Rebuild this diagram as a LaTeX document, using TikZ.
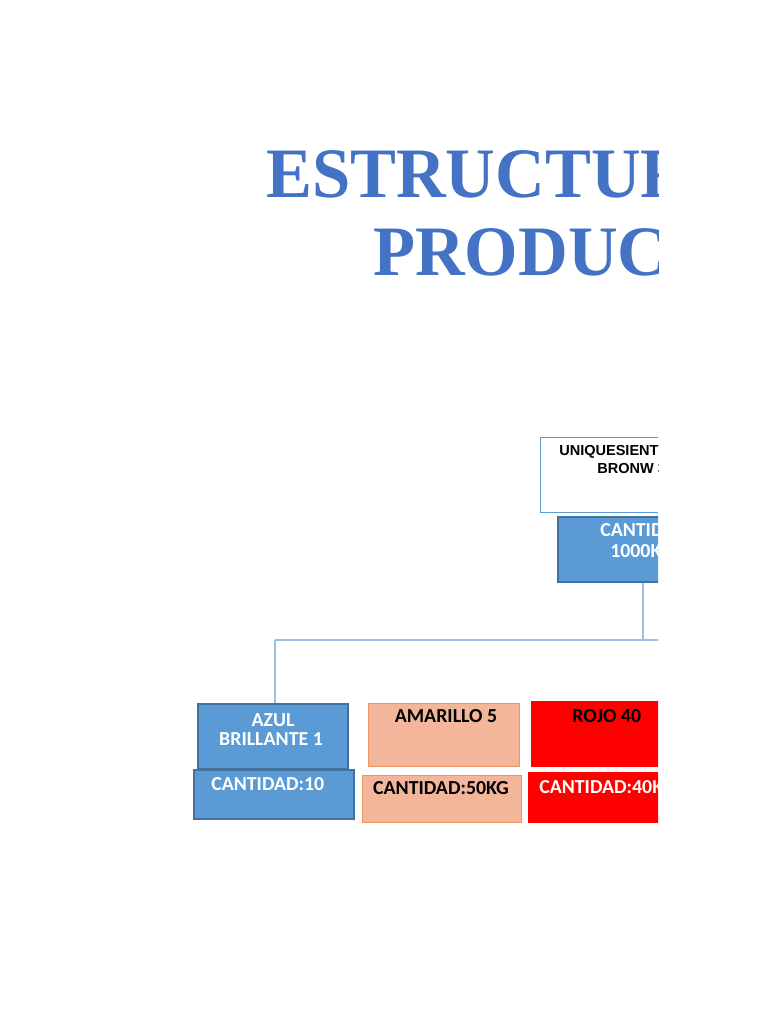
\documentclass[tikz,border=0pt]{standalone}
\usepackage{fontspec}
\setmainfont{Liberation Serif}
\newfontfamily\calfont{Carlito}
\newfontfamily\arialfont{Liberation Sans}
\usetikzlibrary{fit}
\definecolor{titleblue}{HTML}{4472C4}
\definecolor{boxblue}{HTML}{5B9BD5}
\definecolor{boxblueedge}{HTML}{41719C}
\definecolor{salmon}{HTML}{F4B69B}
\definecolor{salmonedge}{HTML}{E9955F}
\definecolor{connblue}{HTML}{9DBFE3}
\begin{document}
\begin{tikzpicture}[x=0.75pt,y=-0.75pt,
  bluebox/.style={draw=boxblueedge, fill=boxblue, line width=0.9pt, inner sep=0pt},
  whitebox/.style={draw=boxblue, fill=white, line width=0.75pt, inner sep=0pt},
  orangebox/.style={draw=salmonedge, fill=salmon, line width=0.75pt, inner sep=0pt},
  redbox/.style={draw=red, fill=red, line width=0.75pt, inner sep=0pt},
  conn/.style={draw=connblue, line width=0.9pt},
  lbl/.style={inner sep=0pt, font=\calfont\bfseries\fontsize{14.9}{17}\selectfont},
  arl/.style={inner sep=0pt, font=\arialfont\bfseries\fontsize{10.9}{12}\selectfont},
  ttl/.style={inner sep=0pt, anchor=base west, text=titleblue, font=\bfseries\fontsize{53.2}{60}\selectfont}]
\useasboundingbox (0,0) rectangle (768,1024);
\begin{scope}
\clip (0,0) rectangle (658,1024);
% title
\node[ttl] (title1) at (266,197) {\scalebox{0.97}[1]{ESTRUCTURA DEL}};
\node[ttl] (title2) at (373,275) {\scalebox{0.97}[1]{PRODUCTO}};
% boxes
\node[whitebox, fit={(540,437) (790,512)}] (top) {};
\node[bluebox, fit={(558,517) (730,582)}] (cant) {};
\node[bluebox, fit={(198,704) (348,769)}] (azul) {};
\node[bluebox, fit={(194,770) (354,819)}] (c10) {};
\node[orangebox, fit={(368,703) (519,766)}] (amar) {};
\node[orangebox, fit={(362,775) (521,822)}] (c50) {};
\node[redbox, fit={(531,701) (682,766)}] (rojo) {};
\node[redbox, fit={(528,772) (686,822)}] (c40) {};
% connectors
\coordinate (j) at (643,640);
\coordinate (jl) at (275,640);
\coordinate (jr) at (720,640);
\draw[conn] (j |- cant.south) -- (j);
\draw[conn] (jl) -- (jr);
\draw[conn] (jl) -- (jl |- azul.north);
% texts
\node[arl, anchor=base west] (t1) at (559,455) {UNIQUESIENTE};
\node[arl, anchor=base west] (t2) at (597,473) {BRONW 3};
\node[lbl, text=white, anchor=base west] (t3) at (600,536) {CANTIDAD:};
\node[lbl, text=white, anchor=base west] (t4) at (610,557) {1000KG};
\node[lbl, text=white, anchor=base] (t5) at (273,726) {AZUL};
\node[lbl, text=white, anchor=base] (t6) at (271,745) {BRILLANTE 1};
\node[lbl, text=white, anchor=base west] (t7) at (211,790) {CANTIDAD:10};
\node[lbl, text=black, anchor=base] (t8) at (446,722) {AMARILLO 5};
\node[lbl, text=black, anchor=base] (t9) at (441,794) {CANTIDAD:50KG};
\node[lbl, text=black, anchor=base west] (t10) at (572,722) {ROJO 40};
\node[lbl, text=white, anchor=base west] (t11) at (539,793) {CANTIDAD:40KG};
\end{scope}
\end{tikzpicture}
\end{document}
